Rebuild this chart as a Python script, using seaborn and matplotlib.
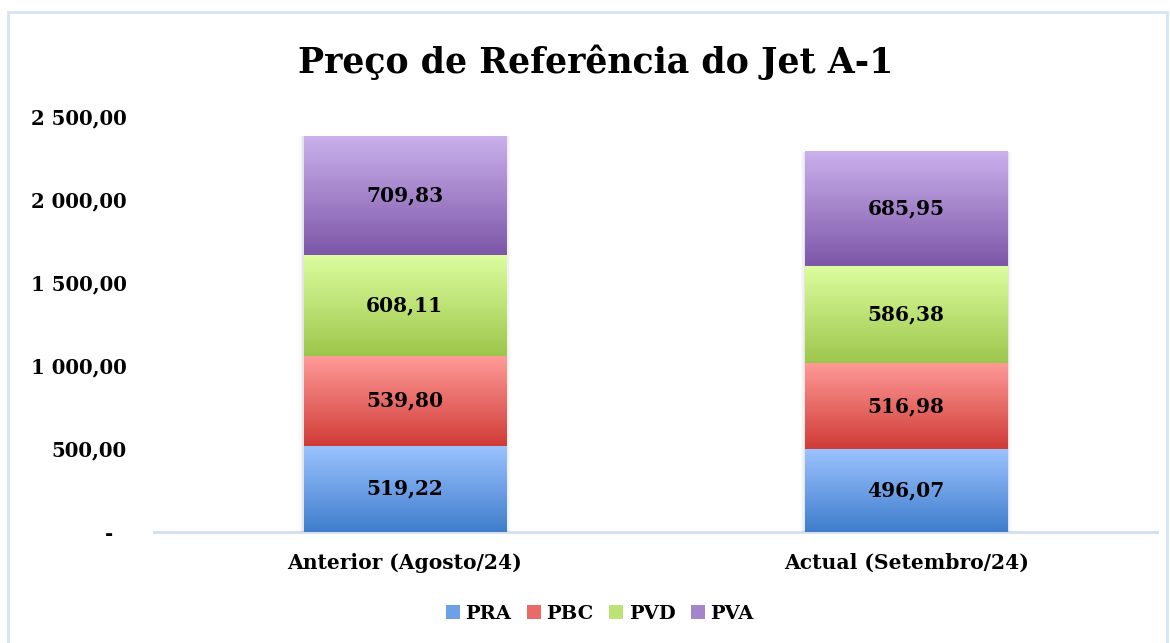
import numpy as np
import pandas as pd
import matplotlib
matplotlib.use("Agg")
import matplotlib.pyplot as plt
from matplotlib.colors import LinearSegmentedColormap
from matplotlib.patches import Rectangle
from matplotlib.ticker import FuncFormatter, MultipleLocator
import seaborn as sns

# ---- data ----
categories = ["Anterior (Agosto/24)", "Actual (Setembro/24)"]
series = ["PRA", "PBC", "PVD", "PVA"]
pra = [519.22, 496.07]
pbc = [539.80, 516.98]
pvd = [608.11, 586.38]
pva = [709.83, 685.95]
title = "Preço de Referência do Jet A-1"

# gradient colours (top, bottom) per series
grad_top = {"PRA": "#9CC3FF", "PBC": "#FF9B98", "PVD": "#DEFEA0", "PVA": "#CAB0EC"}
grad_bot = {"PRA": "#3F7DCC", "PBC": "#D03B37", "PVD": "#9CC64B", "PVA": "#7D57A8"}

sns.set_theme(style="white")
FONT = ["DejaVu Serif"]
plt.rcParams["font.family"] = FONT
plt.rcParams["font.weight"] = "bold"
plt.rcParams["text.color"] = "black"

W, H = 1170, 643
fig = plt.figure(figsize=(W / 100, H / 100), dpi=100)
ax = fig.add_axes([154 / W, 1 - 532 / H, (1157 - 154) / W, (532 - 116) / H])

values = {"PRA": pra, "PBC": pbc, "PVD": pvd, "PVA": pva}
df = pd.DataFrame({"Categoria": categories, **values})
cum = df[series].cumsum(axis=1)

# draw cumulative stacks, tallest first, via seaborn
layer_patches = {}
for s in reversed(series):
    n_before = len(ax.patches)
    sns.barplot(x=categories, y=cum[s].values, color=grad_bot[s], width=0.403,
                ax=ax, saturation=1, linewidth=0, zorder=2)
    layer_patches[s] = ax.patches[n_before:]

ax.set_xlim(-0.5, 1.5)
ax.set_ylim(0, 2500)

# gradient overlays per segment, based on the patch geometry
for i, s in enumerate(series):
    cmap = LinearSegmentedColormap.from_list(s, [grad_bot[s], grad_top[s]])
    grad = np.linspace(0, 1, 256).reshape(-1, 1)
    for j, p in enumerate(layer_patches[s]):
        x0 = p.get_x()
        x1 = x0 + p.get_width()
        top = p.get_height()
        bottom = layer_patches[series[i - 1]][j].get_height() if i > 0 else 0
        # soft shadow
        for k, a in enumerate([0.05, 0.035, 0.02]):
            ax.add_patch(Rectangle((x0 - 0.003 * (k + 1), bottom), (x1 - x0) + 0.006 * (k + 1),
                                   top - bottom, facecolor="black", alpha=a, lw=0, zorder=1))
        ax.imshow(grad, cmap=cmap, origin="lower", aspect="auto",
                  extent=(x0, x1, bottom, top), zorder=3, interpolation="bilinear")
        val = values[s][j]
        ax.text((x0 + x1) / 2, (bottom + top) / 2, f"{val:,.2f}".replace(",", " ").replace(".", ","),
                ha="center", va="center", fontsize=14.5, fontweight="heavy", color="black", zorder=5)

ax.set_xlim(-0.5, 1.5)
ax.set_ylim(0, 2500)


def fmt(v, pos):
    if abs(v) < 1e-9:
        return "-  "
    return f"{v:,.2f}".replace(",", " ").replace(".", ",")


ax.yaxis.set_major_locator(MultipleLocator(500))
ax.yaxis.set_major_formatter(FuncFormatter(fmt))
ax.tick_params(axis="y", length=0, pad=19.5, labelsize=14.2)
ax.tick_params(axis="x", length=0, pad=15, labelsize=14.6)
for lab in ax.get_xticklabels() + ax.get_yticklabels():
    lab.set_fontweight("bold")
    lab.set_color("black")

for side in ["top", "right", "left"]:
    ax.spines[side].set_visible(False)
ax.spines["bottom"].set_color("#D5E0F0")
ax.spines["bottom"].set_linewidth(2.2)
ax.spines["bottom"].set_zorder(0)
ax.set_xlabel("")
ax.set_ylabel("")
ax.grid(False)

fig.text(596 / W, 1 - 62 / H, title, ha="center", va="center", fontsize=25,
         fontweight="bold", color="black")

handles = [Rectangle((0, 0), 1, 1, facecolor=LinearSegmentedColormap.from_list(s, [grad_bot[s], grad_top[s]])(0.5),
                     lw=0) for s in series]
leg = fig.legend(handles, series, loc="center", bbox_to_anchor=(600 / W, 1 - 614 / H), ncol=4,
                 frameon=False, handlelength=0.7, handleheight=0.7, handletextpad=0.3,
                 columnspacing=0.8, prop={"weight": "bold", "size": 14})
for t in leg.get_texts():
    t.set_color("black")

# outer border
fig.patches.append(Rectangle((8 / W, -0.05), (1167 - 8) / W, 1 - 12 / H + 0.05,
                             transform=fig.transFigure, fill=False, edgecolor="#D5E3F5", lw=2))

fig.savefig("out.png", dpi=100)
